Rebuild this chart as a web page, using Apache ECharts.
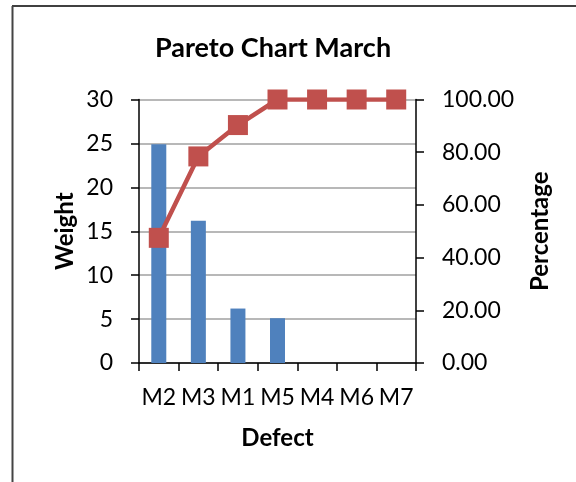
<!DOCTYPE html>
<html>
<head>
<meta charset="utf-8">
<style>
  html, body { margin: 0; padding: 0; background: #ffffff; }
  #chart { width: 576px; height: 482px; }
</style>
<script src="https://cdn.jsdelivr.net/npm/echarts@6/dist/echarts.min.js"></script>
</head>
<body>
<div id="chart"></div>
<script>
// Defects sorted by weight, with the running cumulative share
const categories = ['M2', 'M3', 'M1', 'M5', 'M4', 'M6', 'M7'];
const weights = [24.9, 16.2, 6.2, 5.1, 0, 0, 0];
const cumulativePct = [47.5, 78.4, 90.3, 100, 100, 100, 100];
const weightTicks = { min: 0, max: 30, interval: 5 };
const pctTicks = { min: 0, max: 100, interval: 20 };

const FONT = 'Lato, "Open Sans", sans-serif';
const chart = echarts.init(document.getElementById('chart'), null, { renderer: 'canvas' });

chart.setOption({
  backgroundColor: '#ffffff',
  animation: false,
  title: {
    text: 'Pareto Chart March',
    left: 268,
    top: 30,
    textAlign: 'center',
    textStyle: { fontFamily: FONT, fontWeight: 'bold', fontSize: 27, color: '#000' }
  },
  graphic: [
    { type: 'line', shape: { x1: 12, y1: 6, x2: 576, y2: 6 }, style: { stroke: '#000', lineWidth: 1.5 } },
    { type: 'line', shape: { x1: 12.5, y1: 6, x2: 12.5, y2: 482 }, style: { stroke: '#444', lineWidth: 2 } }
  ],
  grid: { left: 139, right: 160, top: 99.5, bottom: 119, containLabel: false },
  xAxis: {
    type: 'category',
    data: categories,
    boundaryGap: true,
    axisLine: { lineStyle: { color: '#000', width: 1.5 } },
    axisTick: { show: true, length: 8, lineStyle: { color: '#000', width: 1.5 } },
    axisLabel: { fontFamily: FONT, fontSize: 23, color: '#000', margin: 23, interval: 0 },
    name: 'Defect',
    nameLocation: 'middle',
    nameGap: 63,
    nameTextStyle: { fontFamily: FONT, fontWeight: 'bold', fontSize: 24, color: '#000' }
  },
  yAxis: [
    {
      type: 'value',
      min: weightTicks.min, max: weightTicks.max, interval: weightTicks.interval,
      position: 'left',
      axisLine: { show: true, lineStyle: { color: '#000', width: 1.5 } },
      axisTick: { show: true, length: 8, lineStyle: { color: '#000', width: 1.5 } },
      axisLabel: { fontFamily: FONT, fontSize: 23, color: '#000', margin: 26 },
      splitLine: { show: true, lineStyle: { color: '#a0a0a0', width: 1.5 } },
      name: 'Weight',
      nameLocation: 'middle',
      nameRotate: 90,
      nameGap: 62,
      nameTextStyle: { fontFamily: FONT, fontWeight: 'bold', fontSize: 24, color: '#000' }
    },
    {
      type: 'value',
      min: pctTicks.min, max: pctTicks.max, interval: pctTicks.interval,
      position: 'right',
      axisLine: { show: true, lineStyle: { color: '#000', width: 1.5 } },
      axisTick: { show: true, length: 8, lineStyle: { color: '#000', width: 1.5 } },
      axisLabel: { fontFamily: FONT, fontSize: 23, color: '#000', margin: 26, formatter: v => v.toFixed(2) },
      splitLine: { show: false },
      name: 'Percentage',
      nameLocation: 'middle',
      nameRotate: 90,
      nameGap: 112,
      nameTextStyle: { fontFamily: FONT, fontWeight: 'bold', fontSize: 24, color: '#000' }
    }
  ],
  series: [
    {
      name: 'Weight',
      type: 'bar',
      yAxisIndex: 0,
      data: weights,
      barWidth: 15,
      itemStyle: { color: '#4F81BD' }
    },
    {
      name: 'Percentage',
      type: 'line',
      yAxisIndex: 1,
      data: cumulativePct,
      symbol: 'rect',
      symbolSize: 20,
      lineStyle: { color: '#C0504D', width: 4.5 },
      itemStyle: { color: '#C0504D' },
      z: 5
    }
  ]
});
</script>
</body>
</html>
